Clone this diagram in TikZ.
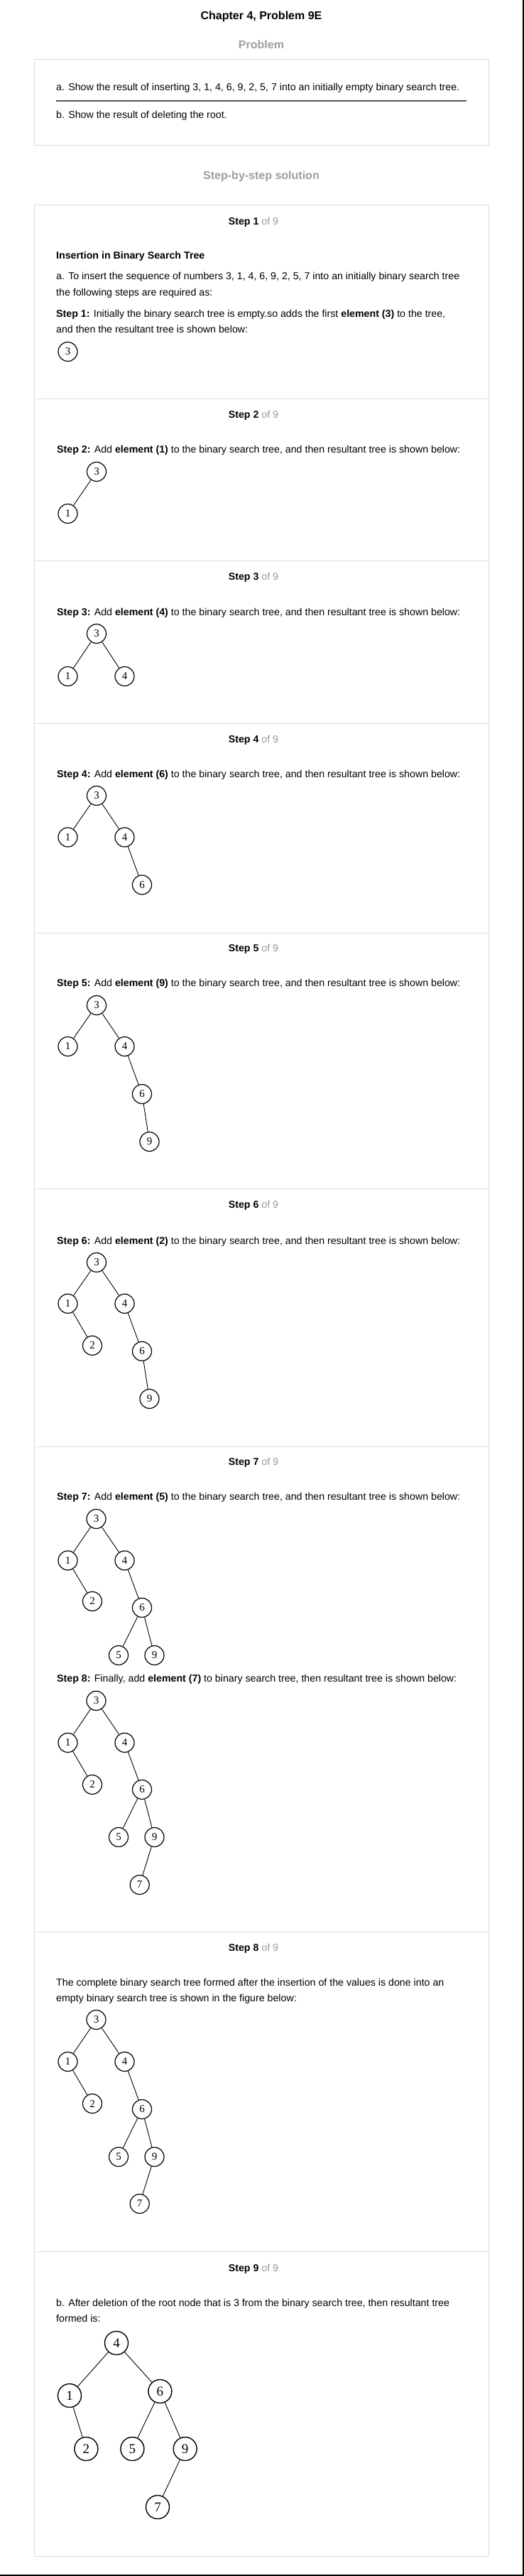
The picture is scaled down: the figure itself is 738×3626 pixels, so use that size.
\documentclass[tikz,border=0pt]{standalone}
\usepackage{fontspec}
\setmainfont{Liberation Sans}
\newfontfamily\digitfont{Liberation Serif}
\definecolor{boxgray}{HTML}{DDDDDD}
\definecolor{ofgray}{HTML}{999999}
\definecolor{headgray}{HTML}{9E9E9E}
\definecolor{sepgray}{HTML}{555555}
\tikzset{
  txt/.style={anchor=base west, inner sep=0pt, font=\fontsize{14.2}{17}\selectfont},
  hdr/.style={anchor=base, inner sep=0pt, font=\fontsize{14.2}{17}\selectfont},
  bighead/.style={anchor=base, inner sep=0pt, font=\fontsize{16}{19}\selectfont\bfseries},
  tn/.style={circle, draw, line width=1.2pt, minimum size=27pt, inner sep=0pt, font=\digitfont\fontsize{15}{15}\selectfont},
  tnb/.style={tn, minimum size=33pt, line width=1.4pt, font=\digitfont\fontsize{19}{19}\selectfont},
  edge/.style={line width=0.9pt},
  boxline/.style={draw=boxgray, line width=1pt},
}
\newcommand{\stephead}[1]{\textbf{Step #1} \textcolor{ofgray}{of 9}}
\begin{document}
\begin{tikzpicture}[x=1pt,y=-1pt]
\useasboundingbox[fill=white] (0,0) rectangle (738,3626);
% frame lines at image edge
\draw[line width=1.5pt] (0,3625) -- (738,3625);
\draw[line width=1.5pt] (737,0) -- (737,3626);

% title
\node[bighead] (title) at (368,27.7) {Chapter 4, Problem 9E};
\node[bighead, text=headgray] (probhead) at (368,68.5) {Problem};

% problem box
\draw[boxline] (48.5,84) rectangle (688.5,205);
\node[txt] (pa) at (79,128) {a. Show the result of inserting 3, 1, 4, 6, 9, 2, 5, 7 into an initially empty binary search tree.};
\coordinate (sepL) at (79,142);
\coordinate (sepR) at (657,142);
\draw[sepgray, line width=1.8pt] (sepL) -- (sepR);
\node[txt] (pb) at (79,167) {b. Show the result of deleting the root.};

\node[bighead, text=headgray] (solhead) at (368,252.5) {Step-by-step solution};

% solution box and dividers
\draw[boxline] (48.5,288) rectangle (688.5,3598);
\foreach \yy in {561,789,1018,1313,1673,2036,2719,3169}
  \draw[boxline] (48.5,\yy) -- (688.5,\yy);

% ---------- Step 1
\node[hdr] (h1) at (357,316) {\stephead{1}};
\node[txt] (ins) at (79,364) {\textbf{Insertion in Binary Search Tree}};
\node[txt] (s1a) at (79,393) {a. To insert the sequence of numbers 3, 1, 4, 6, 9, 2, 5, 7 into an initially binary search tree};
\node[txt] (s1b) at (79,416) {the following steps are required as:};
\node[txt] (s1c) at (79,446) {\textbf{Step 1:} Initially the binary search tree is empty.so adds the first \textbf{element (3)} to the tree,};
\node[txt] (s1d) at (79,468) {and then the resultant tree is shown below:};
\node[tn] (a3) at (95.5,495) {3};

% ---------- Step 2
\node[hdr] (h2) at (357,588) {\stephead{2}};
\node[txt] (s2) at (80,637) {\textbf{Step 2:} Add \textbf{element (1)} to the binary search tree, and then resultant tree is shown below:};
\node[tn] (b3) at (136,664) {3};
\node[tn] (b1) at (95.5,723) {1};
\draw[edge] (b3) -- (b1);

% ---------- Step 3
\node[hdr] (h3) at (357,816) {\stephead{3}};
\node[txt] (s3) at (80,866) {\textbf{Step 3:} Add \textbf{element (4)} to the binary search tree, and then resultant tree is shown below:};
\node[tn] (c3) at (136,892) {3};
\node[tn] (c1) at (95.5,952) {1};
\node[tn] (c4) at (175.5,952) {4};
\draw[edge] (c3) -- (c1);
\draw[edge] (c3) -- (c4);

% ---------- Step 4
\node[hdr] (h4) at (357,1045) {\stephead{4}};
\node[txt] (s4) at (80,1094) {\textbf{Step 4:} Add \textbf{element (6)} to the binary search tree, and then resultant tree is shown below:};
\node[tn] (d3) at (136,1120) {3};
\node[tn] (d1) at (95.5,1178.5) {1};
\node[tn] (d4) at (175.5,1178.5) {4};
\node[tn] (d6) at (200,1245.5) {6};
\draw[edge] (d3) -- (d1);
\draw[edge] (d3) -- (d4);
\draw[edge] (d4) -- (d6);

% ---------- Step 5
\node[hdr] (h5) at (357,1339) {\stephead{5}};
\node[txt] (s5) at (80,1388) {\textbf{Step 5:} Add \textbf{element (9)} to the binary search tree, and then resultant tree is shown below:};
\node[tn] (e3) at (136,1415) {3};
\node[tn] (e1) at (95.5,1473) {1};
\node[tn] (e4) at (175.5,1473) {4};
\node[tn] (e6) at (200,1540) {6};
\node[tn] (e9) at (210.5,1607) {9};
\draw[edge] (e3) -- (e1);
\draw[edge] (e3) -- (e4);
\draw[edge] (e4) -- (e6);
\draw[edge] (e6) -- (e9);

% ---------- Step 6
\node[hdr] (h6) at (357,1700) {\stephead{6}};
\node[txt] (s6) at (80,1751) {\textbf{Step 6:} Add \textbf{element (2)} to the binary search tree, and then resultant tree is shown below:};
\node[tn] (f3) at (136,1777) {3};
\node[tn] (f1) at (95.5,1835) {1};
\node[tn] (f4) at (175.5,1835) {4};
\node[tn] (f2) at (130,1894) {2};
\node[tn] (f6) at (200,1902) {6};
\node[tn] (f9) at (210.5,1969) {9};
\draw[edge] (f3) -- (f1);
\draw[edge] (f3) -- (f4);
\draw[edge] (f1) -- (f2);
\draw[edge] (f4) -- (f6);
\draw[edge] (f6) -- (f9);

% ---------- Step 7
\node[hdr] (h7) at (357,2062) {\stephead{7}};
\node[txt] (s7) at (80,2111) {\textbf{Step 7:} Add \textbf{element (5)} to the binary search tree, and then resultant tree is shown below:};
\node[tn] (g3) at (135.5,2138) {3};
\node[tn] (g1) at (95.5,2196.5) {1};
\node[tn] (g4) at (175.5,2196.5) {4};
\node[tn] (g2) at (130,2254) {2};
\node[tn] (g6) at (200,2263) {6};
\node[tn] (g5) at (167,2330) {5};
\node[tn] (g9) at (217.5,2330) {9};
\draw[edge] (g3) -- (g1);
\draw[edge] (g3) -- (g4);
\draw[edge] (g1) -- (g2);
\draw[edge] (g4) -- (g6);
\draw[edge] (g6) -- (g5);
\draw[edge] (g6) -- (g9);

\node[txt] (s8) at (80,2367) {\textbf{Step 8:} Finally, add \textbf{element (7)} to binary search tree, then resultant tree is shown below:};
\node[tn] (k3) at (135.5,2394) {3};
\node[tn] (k1) at (95.5,2453) {1};
\node[tn] (k4) at (175.5,2453) {4};
\node[tn] (k2) at (130,2512) {2};
\node[tn] (k6) at (200,2519) {6};
\node[tn] (k5) at (167,2586) {5};
\node[tn] (k9) at (217.5,2586) {9};
\node[tn] (k7) at (196.7,2653) {7};
\draw[edge] (k3) -- (k1);
\draw[edge] (k3) -- (k4);
\draw[edge] (k1) -- (k2);
\draw[edge] (k4) -- (k6);
\draw[edge] (k6) -- (k5);
\draw[edge] (k6) -- (k9);
\draw[edge] (k9) -- (k7);

% ---------- Step 8 of 9
\node[hdr] (h8) at (357,2746) {\stephead{8}};
\node[txt] (c8a) at (79,2795) {The complete binary search tree formed after the insertion of the values is done into an};
\node[txt] (c8b) at (79,2817) {empty binary search tree is shown in the figure below:};
\node[tn] (m3) at (135.5,2843) {3};
\node[tn] (m1) at (95.5,2902) {1};
\node[tn] (m4) at (175.5,2902) {4};
\node[tn] (m2) at (130,2961) {2};
\node[tn] (m6) at (200,2969) {6};
\node[tn] (m5) at (167,3036) {5};
\node[tn] (m9) at (217.5,3036) {9};
\node[tn] (m7) at (196.7,3102) {7};
\draw[edge] (m3) -- (m1);
\draw[edge] (m3) -- (m4);
\draw[edge] (m1) -- (m2);
\draw[edge] (m4) -- (m6);
\draw[edge] (m6) -- (m5);
\draw[edge] (m6) -- (m9);
\draw[edge] (m9) -- (m7);

% ---------- Step 9
\node[hdr] (h9) at (357,3197) {\stephead{9}};
\node[txt] (c9a) at (79,3246) {b. After deletion of the root node that is 3 from the binary search tree, then resultant tree};
\node[txt] (c9b) at (79,3268) {formed is:};
\node[tnb] (n4) at (164,3298) {4};
\node[tnb] (n1) at (98,3372) {1};
\node[tnb] (n6) at (225.4,3366) {6};
\node[tnb] (n2) at (121.4,3447) {2};
\node[tnb] (n5) at (186.4,3447) {5};
\node[tnb] (n9) at (260.7,3447) {9};
\node[tnb] (n7) at (222,3529) {7};
\draw[edge] (n4) -- (n1);
\draw[edge] (n4) -- (n6);
\draw[edge] (n1) -- (n2);
\draw[edge] (n6) -- (n5);
\draw[edge] (n6) -- (n9);
\draw[edge] (n9) -- (n7);
\end{tikzpicture}
\end{document}
